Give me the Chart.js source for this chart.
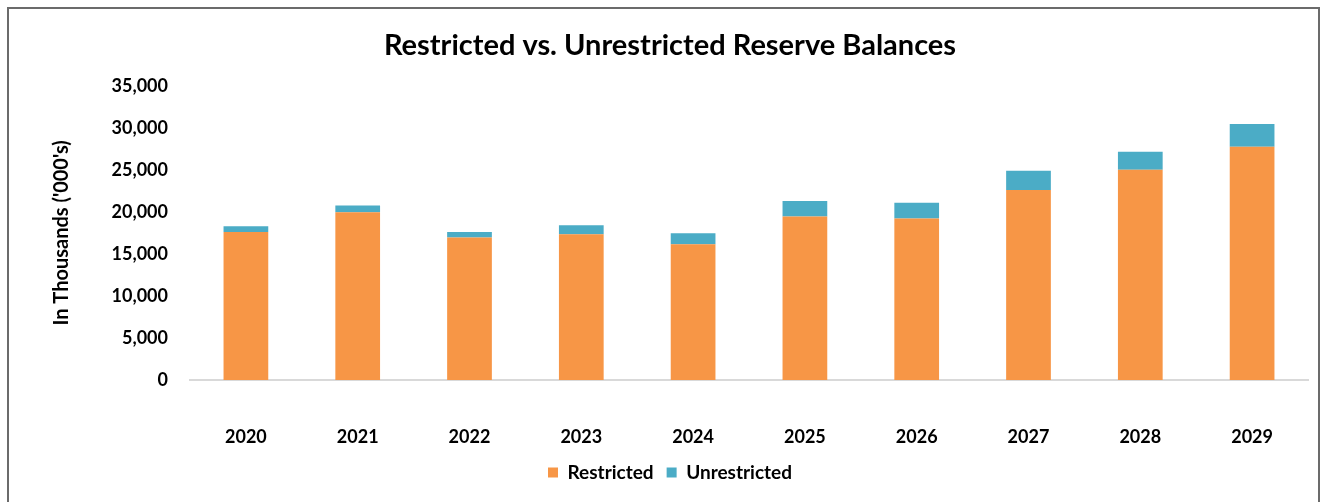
<!DOCTYPE html>
<html lang="en">
<head>
    <meta charset="UTF-8">
    <title>Restricted vs. Unrestricted Reserve Balances</title>
    <script src="https://cdn.jsdelivr.net/npm/chart.js"></script>
    <style>
        html, body { margin: 0; padding: 0; background: #ffffff; }
        .frame {
            position: absolute;
            left: 7px; top: 7px;
            width: 1313px; height: 500px;
            border: 2px solid #6b6b6b;
            box-sizing: border-box;
        }
        .wrap {
            position: absolute;
            left: 0; top: 0;
            width: 1331px; height: 502px;
        }
    </style>
</head>
<body>
    <div class="frame"></div>
    <div class="wrap"><canvas id="reserveChart"></canvas></div>

    <script>
        // Годы и остатки резервов (тыс.)
        const years = ['2020', '2021', '2022', '2023', '2024', '2025', '2026', '2027', '2028', '2029'];
        const restricted = [17600, 19950, 16950, 17350, 16150, 19450, 19200, 22600, 25000, 27750];
        const unrestricted = [700, 800, 650, 1050, 1300, 1850, 1900, 2300, 2150, 2700];

        const fontFamily = 'Lato, "Open Sans", sans-serif';

        const ctx = document.getElementById('reserveChart').getContext('2d');
        new Chart(ctx, {
            type: 'bar',
            data: {
                labels: years,
                datasets: [
                    {
                        label: 'Restricted',
                        data: restricted,
                        backgroundColor: '#F79646',
                        barPercentage: 0.4,
                        categoryPercentage: 1.0
                    },
                    {
                        label: 'Unrestricted',
                        data: unrestricted,
                        backgroundColor: '#4BACC6',
                        barPercentage: 0.4,
                        categoryPercentage: 1.0
                    }
                ]
            },
            options: {
                responsive: true,
                maintainAspectRatio: false,
                animation: false,
                layout: {
                    padding: { left: 32, right: 23, top: 0, bottom: 10 }
                },
                plugins: {
                    title: {
                        display: true,
                        text: 'Restricted vs. Unrestricted Reserve Balances',
                        color: '#000000',
                        font: { family: fontFamily, size: 29, weight: 'bold' },
                        padding: { top: 28, bottom: 23 }
                    },
                    legend: {
                        display: true,
                        position: 'bottom',
                        labels: {
                            color: '#000000',
                            font: { family: fontFamily, size: 19, weight: 'bold' },
                            boxWidth: 10,
                            boxHeight: 10,
                            padding: 13
                        }
                    },
                    tooltip: { enabled: false }
                },
                scales: {
                    x: {
                        stacked: true,
                        grid: { display: false, drawTicks: false },
                        border: { display: true, color: '#d9d9d9', width: 2 },
                        ticks: {
                            color: '#000000',
                            font: { family: fontFamily, size: 18, weight: 'bold' },
                            padding: 46
                        },
                        afterFit: scale => { scale.height = 70; }
                    },
                    y: {
                        stacked: true,
                        min: 0,
                        max: 35000,
                        grid: { display: false, drawTicks: false },
                        border: { display: false },
                        ticks: {
                            stepSize: 5000,
                            color: '#000000',
                            font: { family: fontFamily, size: 18, weight: 'bold' },
                            padding: 22,
                            callback: v => v.toLocaleString('en-US')
                        },
                        title: {
                            display: true,
                            text: "In Thousands ('000's)",
                            color: '#000000',
                            font: { family: fontFamily, size: 20, weight: 'bold' },
                            padding: { top: 18, bottom: 14 }
                        },
                        afterFit: scale => { scale.width = 158; }
                    }
                }
            }
        });
    </script>
</body>
</html>
